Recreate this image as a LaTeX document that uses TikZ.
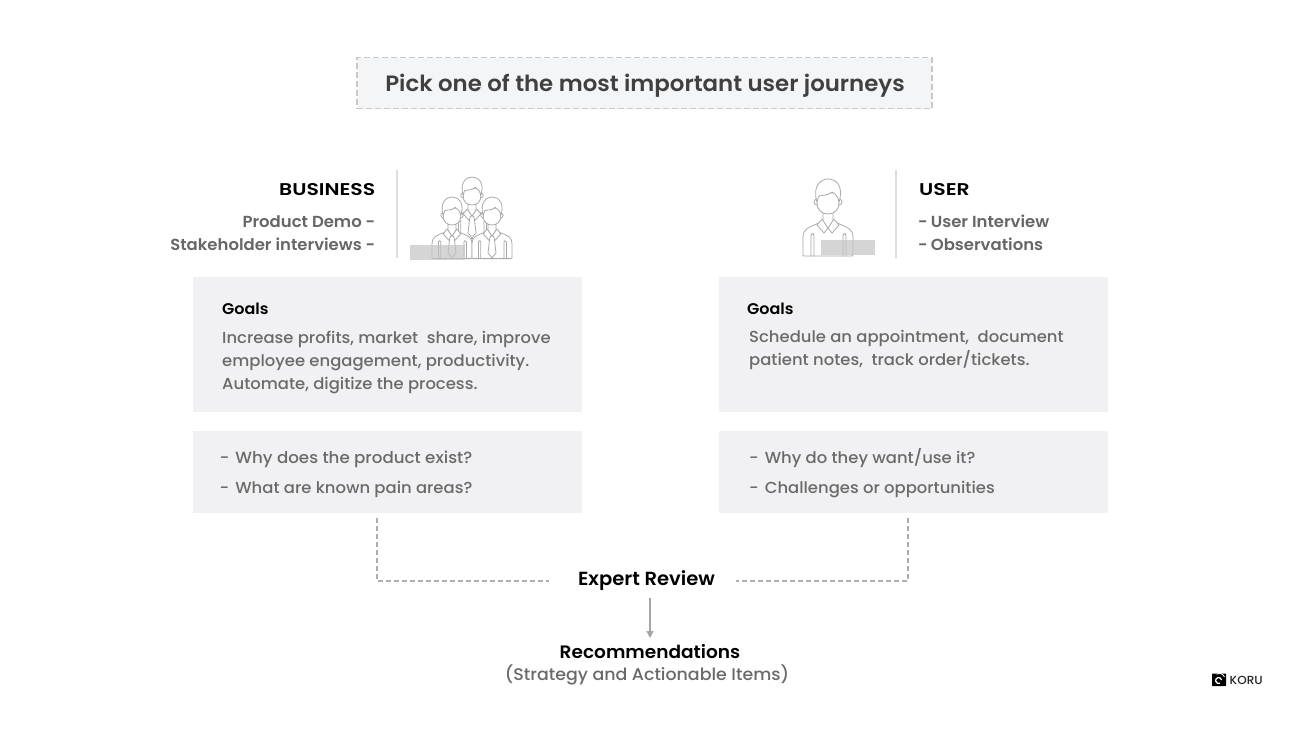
\documentclass[tikz,border=0pt]{standalone}
\usepackage{fontspec}
\setmainfont{Poppins}[UprightFont=* Medium,BoldFont=* SemiBold,FakeStretch=1.03]
\newfontfamily\capsfont{Poppins SemiBold}[FakeStretch=1.2]
\usetikzlibrary{arrows.meta}
\definecolor{boxgray}{HTML}{F1F1F3}
\definecolor{titlegray}{HTML}{F4F5F6}
\definecolor{bodygray}{HTML}{6A6A6A}
\definecolor{subgray}{HTML}{666666}
\definecolor{titletext}{HTML}{404040}
\definecolor{iconline}{HTML}{A9A9A9}
\definecolor{blockgray}{HTML}{C4C4C4}
\definecolor{rulegray}{HTML}{DDDDDD}
\definecolor{dashgray}{HTML}{AEAEAE}
\definecolor{titledash}{HTML}{C8C8C8}
\tikzset{
  panel/.style={fill=boxgray,draw=none,minimum width=389pt,inner sep=0pt,anchor=north west},
  bodytext/.style={font=\fontsize{15.95}{23}\selectfont,text=bodygray,inner sep=0pt},
  headtext/.style={font=\bfseries\fontsize{15.5}{20}\selectfont,text=black,inner sep=0pt},
  captext/.style={font=\capsfont\fontsize{17}{20}\selectfont,text=black,inner sep=0pt},
  subtext/.style={font=\bfseries\fontsize{16}{23}\selectfont,text=subgray,inner sep=0pt},
  iconstroke/.style={draw=iconline,line width=0.8pt,line join=round,line cap=round},
  divider/.style={draw=rulegray,line width=1.2pt},
  dashlink/.style={draw=dashgray,line width=1.1pt,dash pattern=on 5pt off 3pt},
  person/.pic={
    \path[iconstroke,fill=white] (-25,56) -- (-25,38) .. controls (-25,30) and (-19,28) .. (-9,24)
      -- (9,24) .. controls (19,28) and (25,30) .. (25,38) -- (25,56)
      .. controls (25,57) and (24,57) .. (23,57) -- (-23,57) .. controls (-24,57) and (-25,57) .. (-25,56) -- cycle;
    \path[iconstroke,fill=white] (-5,10) -- (-5,22) -- (0,30) -- (5,22) -- (5,10) -- cycle;
    \path[iconstroke,fill=white] (-11,-6) -- (-11,4) .. controls (-11,11) and (-6,15) .. (0,15)
      .. controls (6,15) and (11,11) .. (11,4) -- (11,-6) -- cycle;
    \draw[iconstroke] (-11,0) .. controls (-15,0) and (-15,6) .. (-11,6);
    \draw[iconstroke] (11,0) .. controls (15,0) and (15,6) .. (11,6);
    \path[iconstroke,fill=white] (-11,3) .. controls (-16,-13) and (-7,-20) .. (0,-20)
      .. controls (8,-20) and (16,-13) .. (11,3) .. controls (10,-2) and (8,-5) .. (4,-7)
      .. controls (0,-3) and (-7,-4) .. (-9,-3) .. controls (-10,-2) and (-10,0) .. (-11,3) -- cycle;
    \path[iconstroke,fill=white] (-6,20) -- (-11,26) -- (-4,34) -- (0,29) -- (4,34) -- (11,26) -- (6,20) -- (0,29) -- cycle;
    \draw[iconstroke] (-17,57) -- (-17,36) .. controls (-17,34) and (-14,34) .. (-14,36) -- (-14,57);
    \draw[iconstroke] (15,57) -- (15,36) .. controls (15,34) and (18,34) .. (18,36) -- (18,57);
  },
  tiepic/.pic={
    \path[iconstroke,fill=white] (-2,29) -- (2,29) -- (3,33) -- (5,50) -- (0,56) -- (-5,50) -- (-3,33) -- cycle;
  }
}
\begin{document}
\begin{tikzpicture}[x=1pt,y=-1pt]
\useasboundingbox (0,0) rectangle (1311,737);
\fill[white] (0,0) rectangle (1311,737);

% title
\node[draw=titledash,fill=titlegray,line width=1.3pt,dash pattern=on 6pt off 3pt,minimum width=575pt,minimum height=51pt,inner sep=0pt] (title) at (644.5,83) {};
\node[font=\bfseries\fontsize{22.2}{26}\selectfont,text=titletext,inner sep=0pt,anchor=base] (titletxt) at (645,91) {Pick one of the most important user journeys};

% left header
\node[captext,anchor=base east] (biz) at (375.5,195) {BUSINESS};
\node[subtext,anchor=base east] (demo) at (375.5,227) {Product Demo -};
\node[subtext,anchor=base east] (stake) at (375.5,250) {Stakeholder interviews -};
\draw[divider] (397,170) -- (397,258);

% business icon
\pic[scale=0.8] at (472,193) {person};
\pic[scale=0.8] at (472,193) {tiepic};
\pic[scale=0.8] at (452,213) {person};
\pic[scale=0.8] at (452,213) {tiepic};
\pic[scale=0.8] at (492,213) {person};
\pic[scale=0.8] at (492,213) {tiepic};
\fill[blockgray,opacity=0.7] (410,245) rectangle (465,260);

% right header
\node[captext,anchor=base west] (usr) at (919,195) {USER};
\node[subtext,anchor=base west] (int) at (918,227) {-\hspace{3pt}User Interview};
\node[subtext,anchor=base west] (obs) at (918,250) {-\hspace{3pt}Observations};
\draw[divider] (896,170) -- (896,258);

% user icon
\pic at (828,199) {person};
\fill[blockgray,opacity=0.7] (821,240) rectangle (875,255);

% panels
\node[panel,minimum height=135pt] (lgoals) at (193,277) {};
\node[panel,minimum height=82pt] (lq) at (193,431) {};
\node[panel,minimum height=135pt] (rgoals) at (719,277) {};
\node[panel,minimum height=82pt] (rq) at (719,431) {};

\node[headtext,anchor=base west] (lg) at (222,314) {Goals};
\node[bodytext,anchor=base west] (l1) at (222,343) {Increase profits, market\ \ share, improve};
\node[bodytext,anchor=base west] (l2) at (222,366) {employee engagement, productivity.};
\node[bodytext,anchor=base west] (l3) at (222,389) {Automate, digitize the process.};

\node[headtext,anchor=base west] (rg) at (747,314) {Goals};
\node[bodytext,anchor=base west] (r1) at (749,342) {Schedule an appointment,\ \ document};
\node[bodytext,anchor=base west] (r2) at (749,365) {patient notes,\ \ track order/tickets.};

\node[bodytext,anchor=base west,font=\fontsize{16.2}{23}\selectfont] (lq1) at (219.5,463) {-\hspace{6pt}Why does the product exist?};
\node[bodytext,anchor=base west] (lq2) at (219.5,493) {-\hspace{6pt}What are known pain areas?};
\node[bodytext,anchor=base west] (rq1) at (749,463) {-\hspace{6pt}Why do they want/use it?};
\node[bodytext,anchor=base west] (rq2) at (749,493) {-\hspace{6pt}Challenges or opportunities};

% review
\node[headtext,font=\bfseries\fontsize{19}{20}\selectfont,anchor=base] (expert) at (646.5,585) {Expert Review};
\node[headtext,font=\bfseries\fontsize{18}{20}\selectfont,anchor=base] (rec) at (650,658) {Recommendations};
\node[bodytext,font=\fontsize{16.9}{20}\selectfont,anchor=base] (strat) at (647,680) {(Strategy and Actionable Items)};

% connectors
\coordinate (ls) at (377,518);
\coordinate (lm) at (549,581);
\coordinate (rs) at (908,518);
\coordinate (rm) at (736,581);
\coordinate (as) at (650,598);
\coordinate (ae) at (650,638);
\draw[dashlink] (ls) |- (lm);
\draw[dashlink] (rs) |- (rm);
\draw[draw=gray!70,line width=1.2pt,-{Triangle[length=7pt,width=7pt]}] (as) -- (ae);

% logo
\fill[black,rounded corners=0.5pt] (1212,673.5) rectangle (1226,686);
\draw[white,line width=1.2pt] (1221.5,680) arc[start angle=10,end angle=300,radius=3pt];
\draw[white,line width=0.8pt] (1224.5,677) arc[start angle=20,end angle=120,radius=5.5pt];
\node[inner sep=0pt,anchor=base west,font=\fontsize{11.7}{12}\selectfont,text=black!85] (koru) at (1229.5,684.3) {KORU};
\end{tikzpicture}
\end{document}
